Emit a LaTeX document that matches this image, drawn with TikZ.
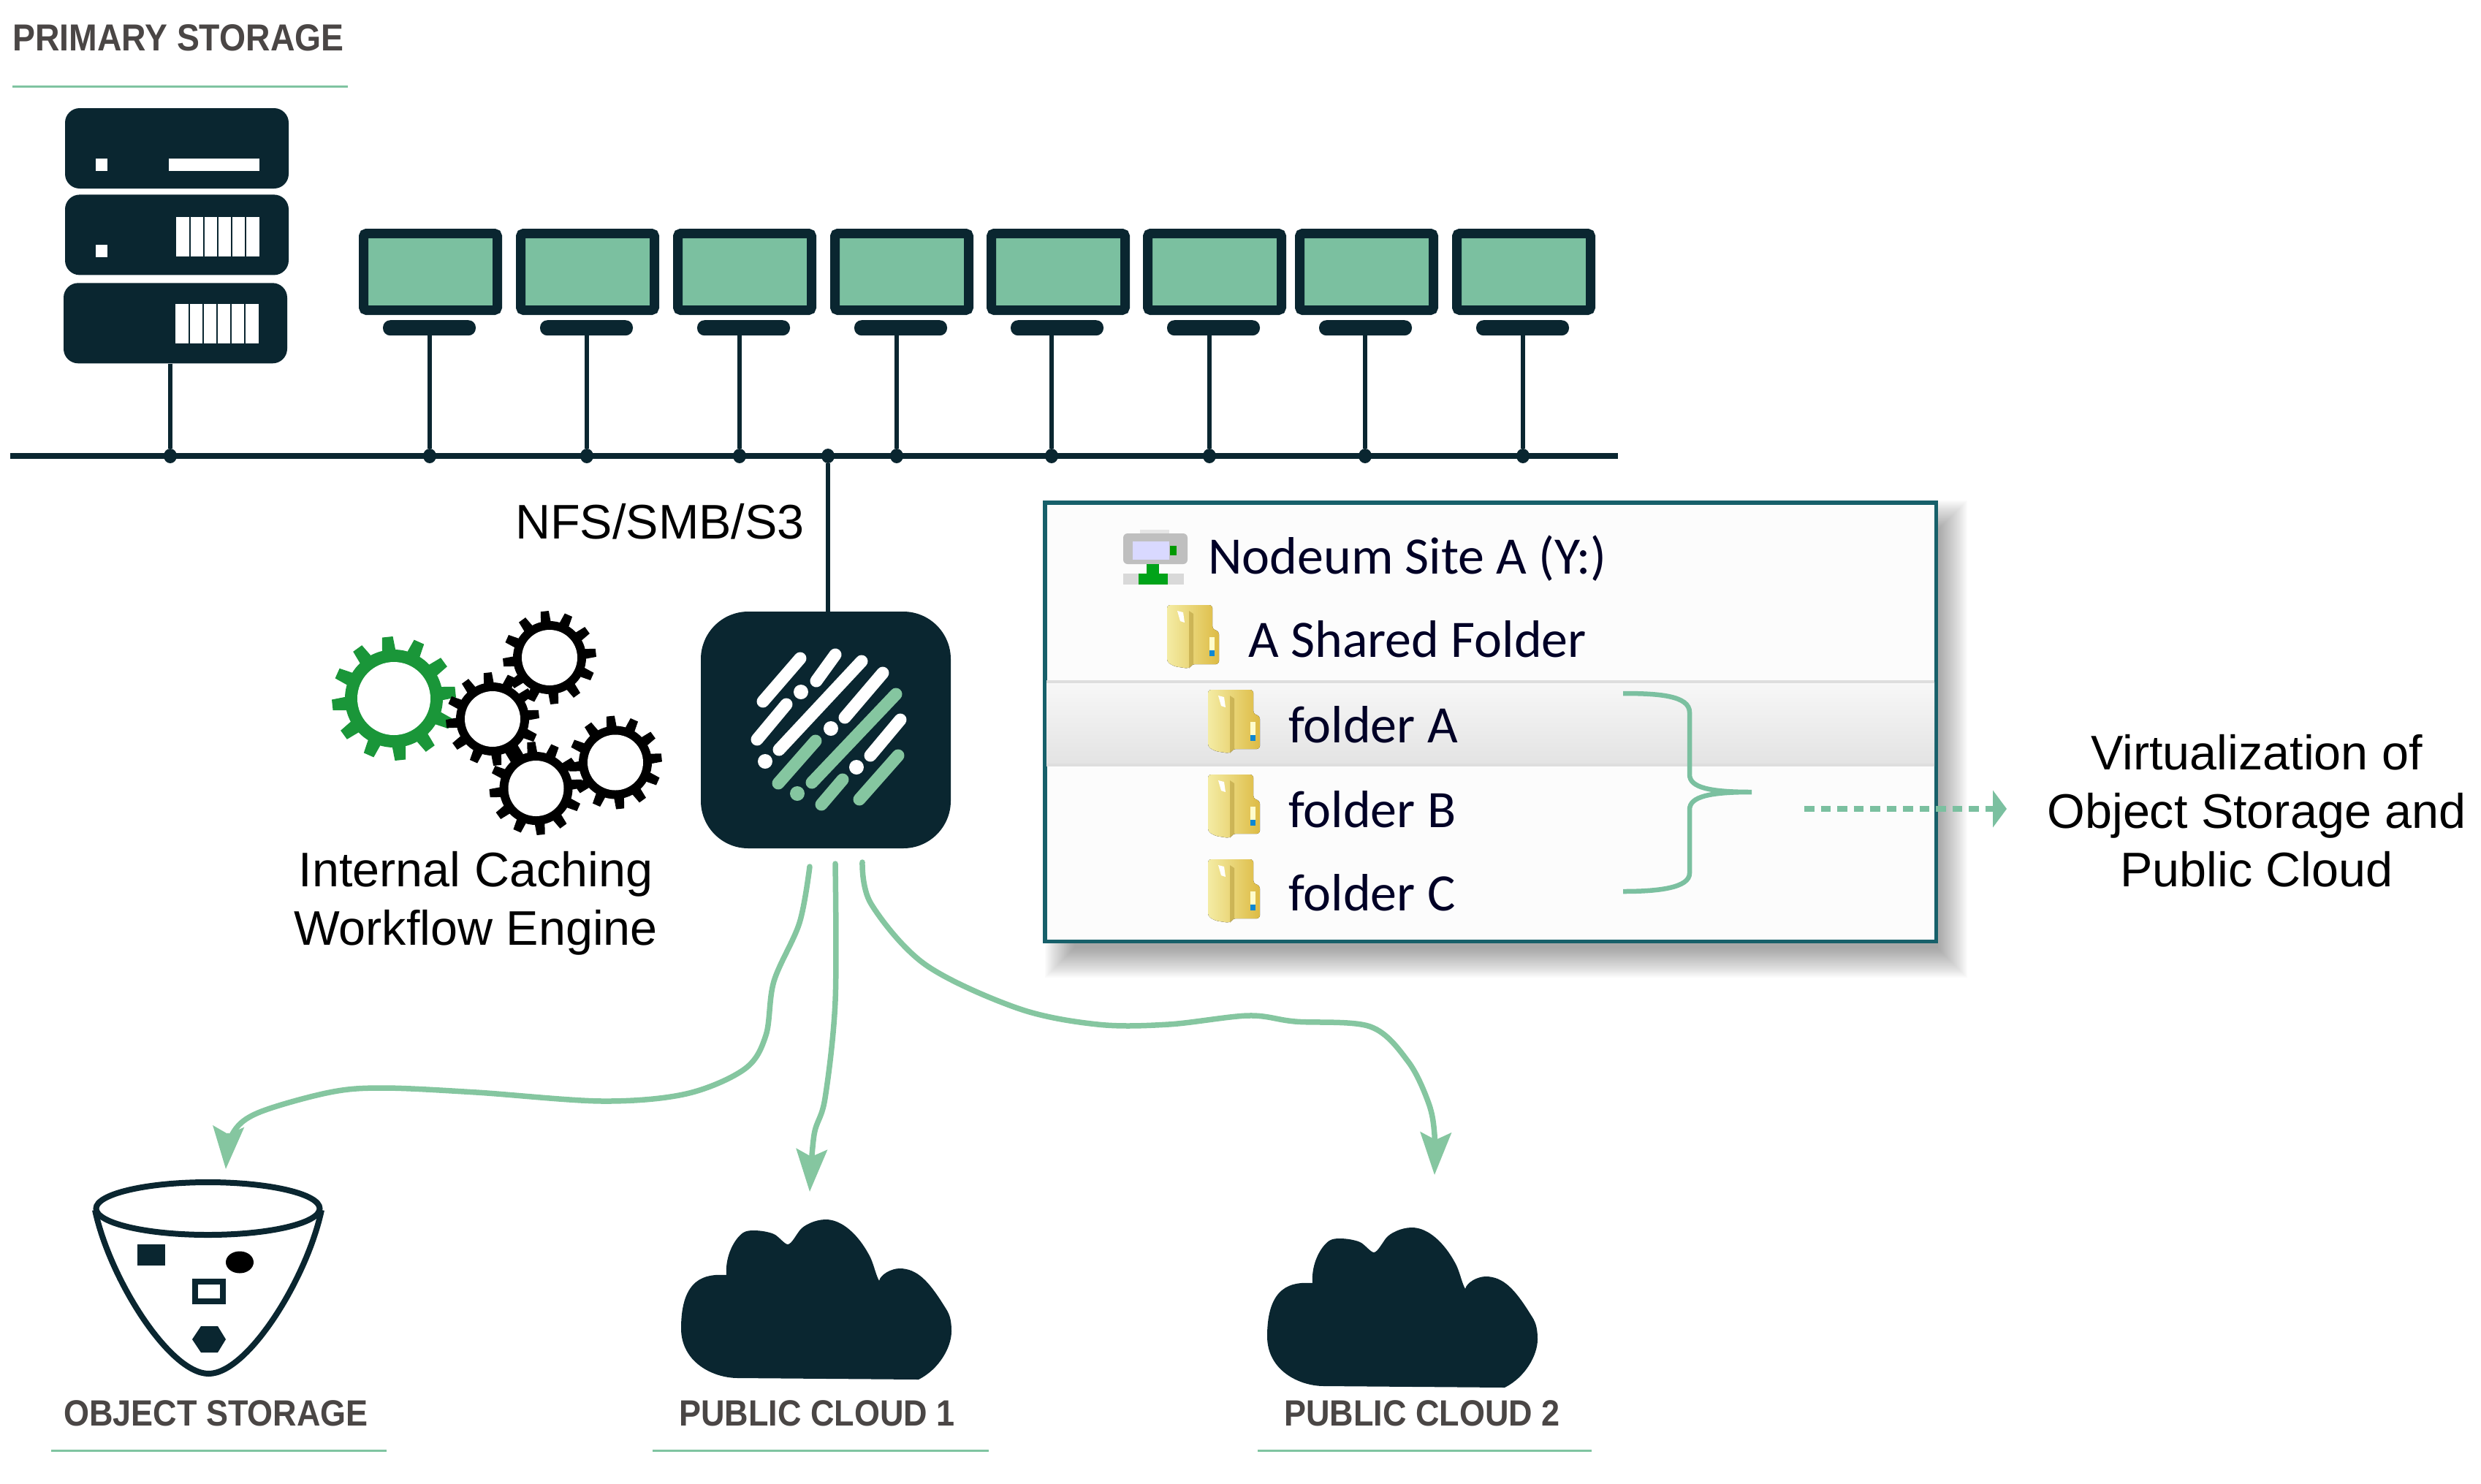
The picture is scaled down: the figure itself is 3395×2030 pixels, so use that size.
\documentclass[tikz,border=0pt]{standalone}
\usepackage{fontspec}
\usepackage{xcolor}
\usetikzlibrary{positioning}
\usetikzlibrary{arrows.meta}
\usetikzlibrary{shapes.geometric}
\setmainfont{Liberation Sans}
\newfontfamily\labelfont[FakeStretch=0.9]{Liberation Sans Bold}
\newfontfamily\explorerfont{Carlito}
\definecolor{inkdark}{HTML}{0A2630}
\definecolor{screengreen}{HTML}{7BC0A0}
\definecolor{flowgreen}{HTML}{85C6A0}
\definecolor{rulegreen}{HTML}{7FC4A1}
\definecolor{panelteal}{HTML}{17606A}
\definecolor{labelgrey}{HTML}{4A4645}
\definecolor{coggreen}{HTML}{1A9639}
\definecolor{folderpale}{HTML}{F4ECA4}
\definecolor{foldergold}{HTML}{DDBB44}
\tikzset{%
  rackbox/.style={rectangle,rounded corners=20pt,fill=inkdark,minimum width=306pt,minimum height=110pt,inner sep=0pt},
  screenbox/.style={rectangle,rounded corners=4pt,fill=screengreen,draw=inkdark,line width=13pt,minimum width=183pt,minimum height=105pt,inner sep=0pt},
  standbar/.style={rectangle,rounded corners=10pt,fill=inkdark,minimum width=127pt,minimum height=21pt,inner sep=0pt},
  tapdot/.style={ellipse,fill=inkdark,minimum width=18pt,minimum height=20pt,inner sep=0pt},
  netline/.style={draw=inkdark,line width=6.5pt},
  busline/.style={draw=inkdark,line width=8pt},
  nodeumbox/.style={rectangle,rounded corners=65pt,fill=inkdark,minimum width=342pt,minimum height=324pt,inner sep=0pt},
  logowhite/.style={draw=white,line width=17pt,line cap=round},
  logogreen/.style={draw=flowgreen,line width=17pt,line cap=round},
  logodot/.style={line width=20pt,line cap=round},
  panelbox/.style={rectangle,fill=white!99!black,draw=panelteal,line width=5.5pt,minimum width=1219.5pt,minimum height=600.5pt,inner sep=0pt},
  cloudflow/.style={draw=flowgreen,line width=7.5pt,line cap=round,-{Stealth[length=58pt,width=42pt,inset=10pt]}},
  bodytext/.style={font=\fontsize{66.5}{80}\selectfont,align=center,inner sep=0pt},
  labeltext/.style={font=\labelfont\fontsize{50}{60}\selectfont,text=labelgrey,inner sep=0pt,anchor=base west},
  explorertext/.style={font=\explorerfont\fontsize{72}{80}\selectfont,text=black!85!blue,inner sep=0pt,anchor=base west},
  titlerule/.style={draw=rulegreen,line width=3pt},
  storeline/.style={draw=inkdark,line width=8pt},
}
\newcommand\desktop[3]{
  \node[screenbox,#2](mon#1){};
  \node[standbar,below=7pt of mon#1,xshift=-1.5pt](stand#1){};
  \node[tapdot](tap#1) at (#3,624){};
  \draw[netline](stand#1.south-|tap#1)--(tap#1);
}
\newcommand\grille[2]{
  \fill[white] (#1,#2) rectangle ++(114,54);
  \foreach \b in {19,38,57,76,95}{\fill[inkdark] ({#1+\b-1},#2) rectangle ++(2.4,54);}
}
\newcommand\cog[7]{
  \coordinate (#1) at (#2,#3);
  \fill[#7] (#1) circle (#5);
  \foreach \t in {0,...,11}{
    \pgfmathsetmacro\a{\t*30+24}
    \fill[#7,shift={(#1)}] (\a-8:#5-1) -- (\a-5:#6) -- (\a+5:#6) -- (\a+8:#5-1) -- cycle;
  }
  \fill[white] (#1) circle (#4);
}
\newcommand\foldericon[2]{
  \begin{scope}[shift={(#1,#2)}]
    \fill[left color=folderpale,right color=foldergold,rounded corners=4pt]
      (0,0) -- (62,0) -- (62,33) -- (71,36) -- (71,81) -- (34,81) -- (30,87) -- (10,84) -- (0,78) -- cycle;
    \fill[foldergold!80!black,opacity=.5] (30,8) -- (36,12) -- (36,81) -- (30,87) -- cycle;
    \fill[white] (14,8) -- (22,10) -- (24,24) -- (18,22) -- cycle;
    \fill[white!80!yellow] (58,44) rectangle (65,62);
    \fill[cyan!70!blue] (58,62) rectangle (65,70);
  \end{scope}
}
\newcommand\cloudglyph[2]{
  \fill[inkdark,shift={(#1,#2)}] (1799,1756) .. controls (1770,1754) and (1737,1760) .. (1737,1829)
    .. controls (1737,1875) and (1780,1897) .. (1815,1897) -- (2062,1899)
    .. controls (2090,1885) and (2107,1855) .. (2107,1833)
    .. controls (2107,1810) and (2101,1805) .. (2095,1795)
    .. controls (2076,1765) and (2060,1747) .. (2036,1747)
    .. controls (2025,1747) and (2010,1755) .. (2008,1764)
    .. controls (2003,1755) and (2000,1738) .. (1994,1728)
    .. controls (1980,1702) and (1958,1680) .. (1935,1680)
    .. controls (1920,1680) and (1905,1688) .. (1900,1694)
    .. controls (1895,1700) and (1888,1714) .. (1883,1714)
    .. controls (1879,1714) and (1872,1705) .. (1866,1701)
    .. controls (1858,1696) and (1830,1692) .. (1822,1698)
    .. controls (1810,1706) and (1797,1730) .. (1799,1756) -- cycle;
}
\begin{document}
\begin{tikzpicture}[x=1pt,y=-1pt]
  \useasboundingbox (0,0) rectangle (3395,2030);
  \coordinate (busl) at (14,624);
  \coordinate (busr) at (2214,624);
  \draw[busline](busl)--(busr);

  \node[labeltext,font=\labelfont\fontsize{51.5}{60}\selectfont](primarylabel) at (17,69){PRIMARY STORAGE};
  \draw[titlerule] (17,118)--(476,118);

  % racks
  \node[rackbox](racka) at (242,203){};
  \node[rackbox,below=8pt of racka](rackb){};
  \node[rackbox,below=10.5pt of rackb,xshift=-2pt](rackc){};
  \fill[white] (131,217) rectangle (147,234);
  \fill[white] (231,217) rectangle (355,234);
  \fill[white] (131,335) rectangle (147,352);
  \grille{241}{297}
  \grille{240}{416}
  \node[tapdot](tapr) at (233,624){};
  \draw[netline](rackc.south-|tapr)--(tapr);

  % desktops
  \desktop{a}{at={(589,372)}}{588}
  \desktop{b}{right=19pt of mona}{803}
  \desktop{c}{right=19pt of monb}{1012}
  \desktop{d}{right=19pt of monc}{1227}
  \desktop{e}{right=18pt of mond}{1439}
  \desktop{f}{right=18pt of mone}{1655}
  \desktop{g}{right=12pt of monf}{1868}
  \desktop{h}{right=19pt of mong}{2084}

  \node[nodeumbox](nodeum) at (1130,999){};
  \node[tapdot](tapc) at (1133,624){};
  \draw[netline](tapc)--(tapc|-nodeum.north);
  \node[bodytext](nfslabel) at (903,714){NFS/SMB/S3};

  % logo
  \draw[logowhite] (1095,901)--(1044,960);
  \draw[logowhite] (1143,896)--(1117,932);
  \draw[logowhite,logodot] (1096,947)--(1096,947.01);
  \draw[logowhite] (1076,964)--(1036,1012);
  \draw[logowhite] (1179,905)--(1066,1026);
  \draw[logowhite] (1208,921)--(1156,982);
  \draw[logowhite,logodot] (1137,997)--(1137,997.01);
  \draw[logowhite] (1232,985)--(1191,1034);
  \draw[logowhite,logodot] (1047,1042)--(1047,1042.01);
  \draw[logowhite,logodot] (1172,1050)--(1172,1050.01);
  \draw[logogreen] (1226,950)--(1111,1071);
  \draw[logogreen] (1116,1014)--(1065,1072);
  \draw[logogreen,logodot] (1091,1086)--(1091,1086.01);
  \draw[logogreen] (1153,1067)--(1124,1101);
  \draw[logogreen] (1229,1034)--(1176,1094);

  % cogs
  \cog{coga}{539}{956}{50}{67}{85}{coggreen}
  \cog{cogb}{674}{984}{38}{50}{64}{black}
  \cog{cogc}{752}{900}{38}{50}{64}{black}
  \cog{cogd}{733.5}{1079}{38}{50}{64}{black}
  \cog{coge}{842}{1043.5}{38}{50}{64}{black}
  \node[bodytext](cachelabel) at (651,1236){Internal Caching\\Workflow Engine};

  % panel
  \foreach \g in {-20,-18,...,20}{\fill[black,opacity=.02] ({1450-\g},{705-\g}) rectangle ({2672+\g},{1318+\g});}
  \node[panelbox](panel) at (2039.5,988){};
  \fill[top color=white!97!black,bottom color=white!89!black] (1432,933) rectangle (2647,1048);
  \fill[white!87!black] (1432,931) rectangle (2647,935);
  \fill[white!87!black] (1432,1045) rectangle (2647,1049);
  \fill[white!75!black,rounded corners=6pt] (1537,730) rectangle (1625,772);
  \fill[white!90!black] (1560,725) rectangle (1600,730);
  \fill[white!85!blue] (1550,741) rectangle (1600,766);
  \fill[green!60!black] (1601,747) rectangle (1610,760);
  \fill[white!85!black] (1537,785) rectangle (1620,800);
  \fill[green!60!black!90!cyan] (1569,772) rectangle (1586,786);
  \fill[green!60!black!90!cyan] (1558,785) rectangle (1598,800);
  \foldericon{1597}{828}
  \foldericon{1653}{944}
  \foldericon{1653}{1060}
  \foldericon{1653}{1176}
  \node[explorertext](sitelabel) at (1653,785){Nodeum Site A (Y:)};
  \node[explorertext](sharedlabel) at (1708,899){A Shared Folder};
  \node[explorertext](folderalabel) at (1763,1016){folder A};
  \node[explorertext](folderblabel) at (1763,1132){folder B};
  \node[explorertext](folderclabel) at (1763,1246){folder C};
  \draw[draw=screengreen,line width=6.5pt] (2221,949) .. controls (2270,949) and (2312,952) .. (2312,975)
    -- (2312,1060) .. controls (2312,1078) and (2340,1084) .. (2397,1084)
    .. controls (2340,1084) and (2312,1090) .. (2312,1108) -- (2312,1195)
    .. controls (2312,1215) and (2270,1220) .. (2221,1220);
  \coordinate (virta) at (2469,1107);
  \coordinate (virtb) at (2746,1107);
  \draw[draw=screengreen,line width=8pt,dash pattern=on 13.5pt off 9pt,-{Triangle[length=19pt,width=50pt]}](virta)--(virtb);
  \node[bodytext](virtlabel) at (3088,1110){Virtualization of\\Object Storage and\\Public Cloud};

  % object storage
  \draw[storeline] (130,1656) .. controls (150,1750) and (232,1880) .. (285.5,1880)
    .. controls (339,1880) and (420,1750) .. (440,1656);
  \draw[storeline] (284.5,1654) ellipse (153 and 36);
  \fill[inkdark] (188,1703) rectangle (226,1732);
  \fill[black] (328,1727.5) ellipse (19 and 15);
  \draw[inkdark,line width=7.5pt] (267,1754) rectangle (305,1781);
  \fill[inkdark] (275,1815) -- (298,1815) -- (309,1833) -- (298,1851) -- (275,1851) -- (263,1833) -- cycle;

  % clouds
  \cloudglyph{-805}{-11}
  \cloudglyph{-3}{0}

  \node[labeltext](objectlabel) at (87,1951){OBJECT STORAGE};
  \draw[titlerule] (70,1985)--(529,1985);
  \node[labeltext](cloudalabel) at (929,1951){PUBLIC CLOUD 1};
  \draw[titlerule] (893,1985)--(1353,1985);
  \node[labeltext](cloudblabel) at (1757,1951){PUBLIC CLOUD 2};
  \draw[titlerule] (1721,1985)--(2178,1985);

  % flows
  \coordinate (taila) at (1108,1186);
  \coordinate (heada) at (309,1600);
  \coordinate (tailb) at (1143,1182);
  \coordinate (headb) at (1108,1631);
  \coordinate (tailc) at (1180,1180);
  \coordinate (headc) at (1963,1608);
  \draw[cloudflow] plot[smooth,tension=.55] coordinates {(taila) (1094,1263) (1059,1343) (1048,1417) (1019,1463) (939,1497) (824,1507) (652,1495) (525,1489) (451,1495) (353,1523) (318,1552) (heada)};
  \draw[cloudflow] plot[smooth,tension=.55] coordinates {(tailb) (1143,1370) (1129,1503) (1114,1553) (headb)};
  \draw[cloudflow] plot[smooth,tension=.55] coordinates {(tailc) (1192,1237) (1266,1320) (1393,1380) (1502,1402) (1599,1402) (1708,1390) (1772,1398) (1875,1405) (1927,1453) (1955,1510) (1963,1553) (headc)};
\end{tikzpicture}
\end{document}
